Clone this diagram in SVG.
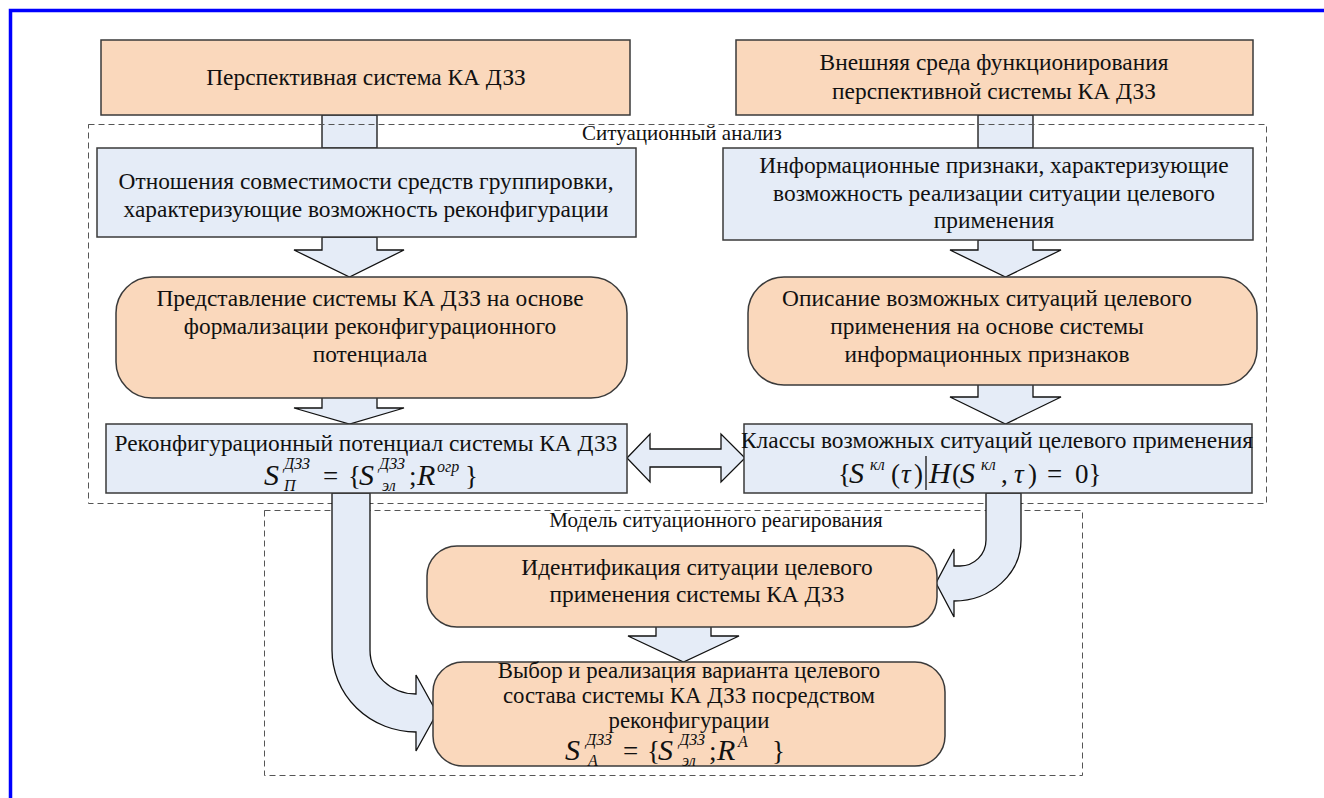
<svg xmlns="http://www.w3.org/2000/svg" width="1324" height="798" viewBox="0 0 1324 798">
<style>
.peach{fill:#FAD8BC;stroke:#3a3a3a;stroke-width:1.5}
.blue{fill:#E5ECF7;stroke:#3a3a3a;stroke-width:1.5}
.arr{fill:#E5ECF7;stroke:#111;stroke-width:1.3;stroke-linejoin:miter}
.dash{fill:none;stroke:#555;stroke-width:1;stroke-dasharray:6 4}
.t{font-size:23.4px;text-anchor:middle}
.t2{font-size:22.8px;text-anchor:middle}
.lbl{font-size:21px;text-anchor:middle}
.m{font-style:italic;font-size:30px}
.s{font-style:italic;font-size:16px}
.r{font-size:27px}
</style>
<rect x="0" y="0" width="1324" height="798" fill="#fff"/>
<path d="M10.5 798 V10.5 H1324" fill="none" stroke="#0000FF" stroke-width="3.5"/>

<g id="stubs">
<rect class="arr" x="322" y="115" width="55" height="33"/>
<rect class="arr" x="978" y="115" width="55" height="33"/>
</g>

<g font-family="'Liberation Serif', 'DejaVu Serif', serif" fill="#111">
<g id="containers">
<rect class="dash" x="88.5" y="124.5" width="1178" height="379"/>
<text class="lbl" x="682" y="140">Ситуационный анализ</text>
<rect class="dash" x="264.5" y="510.5" width="818" height="265"/>
<text class="lbl" x="716" y="527">Модель ситуационного реагирования</text>
</g>

<g id="connectors">
<path class="arr" d="M322 237 V250 H294 L349.5 277 L404 250 H377 V237 Z"/>
<path class="arr" d="M978 240 V250 H950 L1005.5 277 L1061 250 H1033 V240 Z"/>
<path class="arr" d="M322 390 V408 H294 L349.5 424 L404 408 H377 V390 Z"/>
<path class="arr" d="M978 384 V397 H950 L1005.5 424 L1061 397 H1033 V384 Z"/>
<path class="arr" d="M656 626 V636 H628 L683.5 662 L739 636 H711 V626 Z"/>
<path class="arr" d="M627 458 L650 434 V449 H721 V434 L745 458 L721 482 V467 H650 V482 Z"/>
<path class="arr" d="M332 493 H370 V650 A46 44 0 0 0 416 694 V675 L437 713 L416 751 V732 A84 82 0 0 1 332 650 Z"/>
<path class="arr" d="M986 493 H1021 V540 A67 61 0 0 1 954 601 V617 L936 583 L954 549 V566 H960 A26 26 0 0 0 986 540 Z"/>
</g>

<g id="n1"><rect class="peach" x="101" y="40" width="529" height="75"/>
<text class="t" x="366" y="85">Перспективная система КА ДЗЗ</text></g>

<g id="n2"><rect class="peach" x="736" y="40" width="517" height="75"/>
<text class="t" x="994" y="70">Внешняя среда функционирования</text>
<text class="t" x="994" y="99">перспективной системы КА ДЗЗ</text></g>

<g id="n3"><rect class="blue" x="97" y="148" width="539" height="89"/>
<text class="t" x="366" y="189">Отношения совместимости средств группировки,</text>
<text class="t" x="366" y="217">характеризующие возможность реконфигурации</text></g>

<g id="n4"><rect class="blue" x="723" y="148" width="530" height="92"/>
<text class="t" x="994" y="173">Информационные признаки, характеризующие</text>
<text class="t" x="994" y="201">возможность реализации ситуации целевого</text>
<text class="t" x="994" y="228">применения</text></g>

<g id="n5"><rect class="peach" x="116" y="277" width="511" height="121" rx="36"/>
<text class="t" x="370" y="306">Представление системы КА ДЗЗ на основе</text>
<text class="t" x="370" y="334">формализации реконфигурационного</text>
<text class="t" x="370" y="362">потенциала</text></g>

<g id="n6"><rect class="peach" x="748" y="277" width="509" height="108" rx="36"/>
<text class="t" x="987" y="306">Описание возможных ситуаций целевого</text>
<text class="t" x="987" y="334">применения на основе системы</text>
<text class="t" x="987" y="362">информационных признаков</text></g>

<g id="n7"><rect class="blue" x="106" y="424" width="521" height="69"/>
<text class="t" x="366" y="451">Реконфигурационный потенциал системы КА ДЗЗ</text>
<text><tspan class="m" x="264" y="485">S</tspan><tspan class="s" x="284" y="469">ДЗЗ</tspan><tspan class="s" x="284" y="491">П</tspan><tspan class="r" x="323" y="485">=</tspan><tspan class="r" x="348" y="485">{</tspan><tspan class="m" x="359" y="485">S</tspan><tspan class="s" x="379" y="469">ДЗЗ</tspan><tspan class="s" x="382" y="491">эл</tspan><tspan class="r" x="409" y="485">;</tspan><tspan class="m" x="417" y="485">R</tspan><tspan class="s" x="437" y="472">огр</tspan><tspan class="r" x="465" y="485">}</tspan></text></g>

<g id="n8"><rect class="blue" x="744" y="424" width="508" height="69"/>
<text class="t" x="997" y="448">Классы возможных ситуаций целевого применения</text>
<text><tspan class="r" x="838" y="483">{</tspan><tspan class="m" x="849" y="483">S</tspan><tspan class="s" x="870" y="470">кл</tspan><tspan class="r" x="891" y="483">(</tspan><tspan class="r" x="901" y="483" font-style="italic">τ</tspan><tspan class="r" x="914" y="483">)</tspan><tspan class="m" x="929" y="483">H</tspan><tspan class="r" x="952" y="483">(</tspan><tspan class="m" x="960" y="483">S</tspan><tspan class="s" x="981" y="470">кл</tspan><tspan class="r" x="1001" y="483">,</tspan><tspan class="r" x="1014" y="483" font-style="italic">τ</tspan><tspan class="r" x="1028" y="483">)</tspan><tspan class="r" x="1047" y="483">=</tspan><tspan class="r" x="1075" y="483">0}</tspan></text>
<line x1="926" y1="456" x2="926" y2="490" stroke="#111" stroke-width="1.3"/></g>

<g id="n9"><rect class="peach" x="427" y="546" width="510" height="81" rx="30"/>
<text class="t" x="697" y="575">Идентификация ситуации целевого</text>
<text class="t" x="697" y="602">применения системы КА ДЗЗ</text></g>

<g id="n10"><rect class="peach" x="433" y="662" width="512" height="104" rx="30"/>
<text class="t2" x="689" y="678">Выбор и реализация варианта целевого</text>
<text class="t2" x="689" y="703">состава системы КА ДЗЗ посредством</text>
<text class="t2" x="689" y="728">реконфигурации</text>
<text><tspan class="m" x="565" y="760">S</tspan><tspan class="s" x="586" y="745">ДЗЗ</tspan><tspan class="s" x="588" y="766">A</tspan><tspan class="r" x="623" y="760">=</tspan><tspan class="r" x="647" y="760">{</tspan><tspan class="m" x="658" y="760">S</tspan><tspan class="s" x="679" y="745">ДЗЗ</tspan><tspan class="s" x="682" y="766">эл</tspan><tspan class="r" x="709" y="760">;</tspan><tspan class="m" x="717" y="760">R</tspan><tspan class="s" x="738" y="747">A</tspan><tspan class="r" x="772" y="760">}</tspan></text></g>
</g>
</svg>
